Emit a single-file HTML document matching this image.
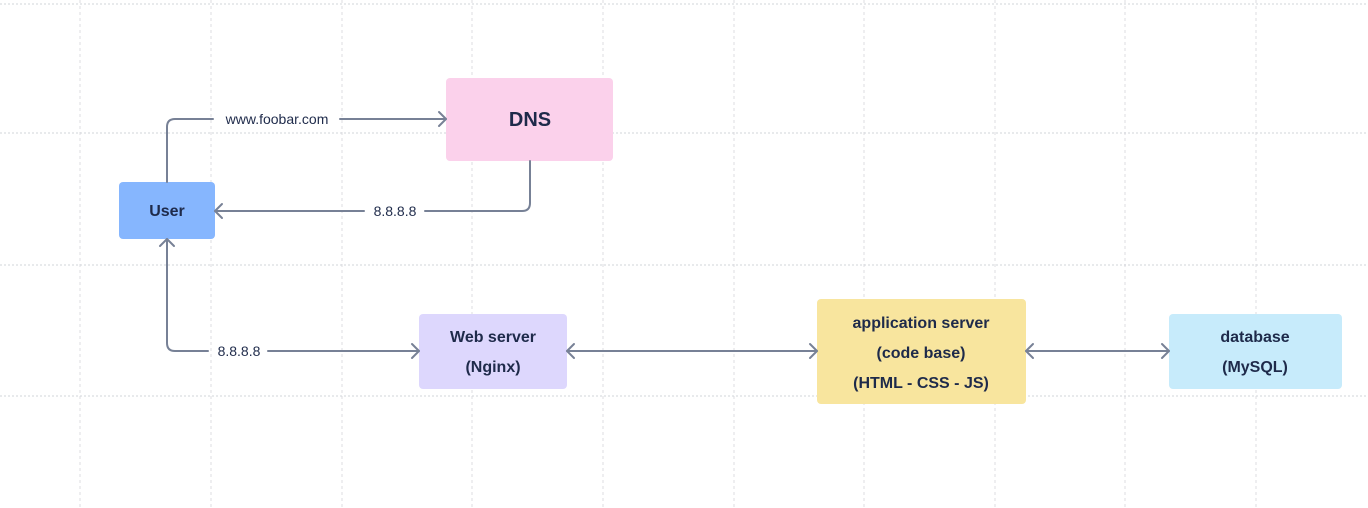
<!DOCTYPE html>
<html><head><meta charset="utf-8"><style>
html,body{margin:0;padding:0;background:#fff;}
svg{display:block;}
text{font-family:"Liberation Sans",sans-serif;fill:#1e2a4a;}
.b{font-weight:bold;}
</style></head><body>
<svg width="1368" height="508" viewBox="0 0 1368 508" xmlns="http://www.w3.org/2000/svg">
<g stroke="#dcdde2" stroke-width="1" stroke-dasharray="3,3">
<line x1="80" y1="0" x2="80" y2="508"/><line x1="211" y1="0" x2="211" y2="508"/>
<line x1="342" y1="0" x2="342" y2="508"/><line x1="472" y1="0" x2="472" y2="508"/>
<line x1="603" y1="0" x2="603" y2="508"/><line x1="734" y1="0" x2="734" y2="508"/>
<line x1="864" y1="0" x2="864" y2="508"/><line x1="995" y1="0" x2="995" y2="508"/>
<line x1="1125" y1="0" x2="1125" y2="508"/><line x1="1256" y1="0" x2="1256" y2="508"/>
</g>
<g stroke="#d2d4da" stroke-width="1" stroke-dasharray="2,2">
<line x1="0" y1="4" x2="1368" y2="4"/>
<line x1="0" y1="133" x2="1368" y2="133"/><line x1="0" y1="265" x2="1368" y2="265"/>
<line x1="0" y1="396" x2="1368" y2="396"/>
</g>
<rect x="119" y="182" width="96" height="57" rx="4" fill="#86b6fe"/>
<rect x="446" y="78" width="167" height="83" rx="4" fill="#fbd1eb"/>
<rect x="419" y="314" width="148" height="75" rx="4" fill="#ddd7fd"/>
<rect x="817" y="299" width="209" height="105" rx="4" fill="#f8e59e"/>
<rect x="1169" y="314" width="173" height="75" rx="4" fill="#c7ebfb"/>
<g stroke="#778196" stroke-width="2" fill="none" stroke-linecap="round" stroke-linejoin="round">
<path d="M167 182 V127 Q167 119 175 119 H213"/><path d="M340 119 H446"/><path d="M439 112 L446 119 L439 126"/>
<path d="M530 161 V203 Q530 211 522 211 H425"/><path d="M364 211 H215"/><path d="M222 204 L215 211 L222 218"/>
<path d="M167 239 V343 Q167 351 175 351 H208"/><path d="M268 351 H419"/><path d="M412 344 L419 351 L412 358"/>
<path d="M160 246 L167 239 L174 246"/>
<path d="M567 351 H817"/><path d="M574 344 L567 351 L574 358"/><path d="M810 344 L817 351 L810 358"/>
<path d="M1026 351 H1169"/><path d="M1033 344 L1026 351 L1033 358"/><path d="M1162 344 L1169 351 L1162 358"/>
</g>
<text x="277" y="124" font-size="14" text-anchor="middle">www.foobar.com</text>
<text x="395" y="216" font-size="14" text-anchor="middle">8.8.8.8</text>
<text x="239" y="356" font-size="14" text-anchor="middle">8.8.8.8</text>
<text x="167" y="216" font-size="16" class="b" text-anchor="middle">User</text>
<text x="530" y="126" font-size="20" class="b" text-anchor="middle">DNS</text>
<text x="493" y="342" font-size="16" class="b" text-anchor="middle">Web server</text>
<text x="493" y="372" font-size="16" class="b" text-anchor="middle">(Nginx)</text>
<text x="921" y="328" font-size="16" class="b" text-anchor="middle">application server</text>
<text x="921" y="358" font-size="16" class="b" text-anchor="middle">(code base)</text>
<text x="921" y="388" font-size="16" class="b" text-anchor="middle">(HTML - CSS - JS)</text>
<text x="1255" y="342" font-size="16" class="b" text-anchor="middle">database</text>
<text x="1255" y="372" font-size="16" class="b" text-anchor="middle">(MySQL)</text>
</svg>
</body></html>
